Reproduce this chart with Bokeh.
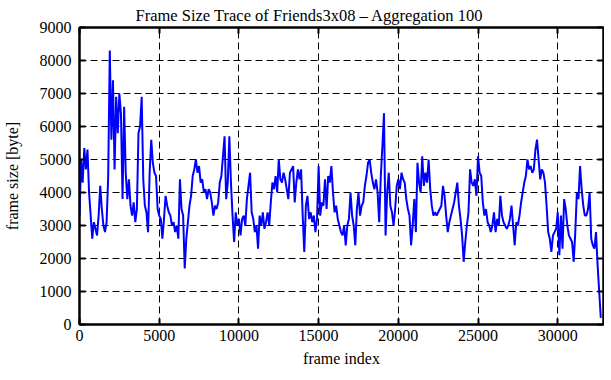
from bokeh.plotting import figure
from bokeh.models import LinearAxis, Range1d, FixedTicker
from bokeh.embed import file_html
from bokeh.resources import INLINE

# ---- data (frame size per aggregated block of 100 frames) ----
AGGREGATION = 100
size_a = [3300, 5000, 4300, 5350, 4700, 5300, 4000, 3300, 2600, 3100,
          2900, 2700, 3300, 4200, 3500, 3000, 2800, 3100, 4500, 8300,
          5600, 7400, 4700, 6900, 5800, 7000, 6400, 3800, 6600, 4600,
          3800, 4400, 3600, 3300, 3700, 3100, 3500, 5800, 6000, 6900,
          4400, 3600, 3400, 2800, 4600, 5600, 4900, 4600, 4500, 3500,
          3300, 3200, 2600, 3200, 3900, 3600, 3400, 3300, 3000, 3100,
          2800, 3000, 2600, 4400, 3500, 3300, 1700, 2600, 3100, 3600,
          3900, 4500, 4700, 5000, 4600, 4800, 4300, 4400, 4000, 4100,
          3800, 4100]
size_b = [4000, 3700, 3300, 3600, 3500, 3700, 4300, 4500,
          5100, 5700, 3800, 4300, 5700, 4300, 3300, 2500, 3400, 3000,
          3200, 2700, 3200, 3300, 3000, 3800, 4200, 4600, 3400, 3200,
          2800, 3000, 2300, 3300, 3000, 3400, 2900, 3100, 3400, 3000,
          3700, 4300, 4100, 4500, 4000, 5000, 4400, 4300, 4600, 4400,
          4100, 3800, 4600, 4700, 4800, 3700, 4300, 4700, 4400, 4700,
          3300, 2200, 3600, 3900, 3200, 3400, 3100, 3300, 2800, 3200,
          4800, 3300, 3700, 3600, 4400, 3500, 4500, 4300, 4800, 4000,
          3400, 3600, 3200, 3000]
size_c = [2800, 2700, 3000, 2400, 3000, 3200,
          4000, 3300, 3000, 2400, 3500, 4000, 3300, 3600, 3700, 4200,
          4500, 4900, 5000, 4600, 4300, 4100, 4400, 4000, 3100, 4500,
          5400, 6400, 2700, 4000, 4600, 3600, 3400, 3000, 3500, 4200,
          4400, 4100, 4600, 4400, 4300, 3800, 3500, 3300, 2400, 3000,
          3800, 2800, 4900, 4300, 4000, 5100, 4200, 4600, 4300, 5000,
          4100, 3600, 3300, 3400, 3300, 3400, 3500, 3600, 4200, 3900,
          3300, 2800, 3100, 3300, 3500, 3700, 4000, 4300, 3600, 3200,
          2700, 1900, 2500, 3000, 3400, 4700]
size_d = [4300, 4200, 4400, 3900,
          5100, 4600, 4500, 3700, 3300, 3500, 3100, 3000, 2800, 3000,
          3400, 2800, 3200, 3000, 3900, 3300, 3100, 3000, 2900, 3000,
          3200, 3600, 3000, 2400, 3100, 3000, 3300, 3700, 4000, 4300,
          4500, 5000, 4700, 4800, 4600, 4700, 5300, 5600, 5000, 4400,
          4700, 4600, 4300, 3600, 2800, 2600, 2200, 2700, 2800, 2900,
          3400, 2100, 3300, 2300, 3800, 3500, 3000, 2700, 2600, 2500,
          1900, 2800, 4000, 3800, 4800, 4100, 3600, 3300, 3300, 3500,
          4000, 2600, 2400, 2300, 2800, 1800, 1000, 200]

frame_sizes = size_a + size_b + size_c + size_d
frame_index = [AGGREGATION * i for i in range(len(frame_sizes))]

x_ticks = [0, 5000, 10000, 15000, 20000, 25000, 30000]
y_ticks = [0, 1000, 2000, 3000, 4000, 5000, 6000, 7000, 8000, 9000]
X_MAX = 32870
Y_MAX = 9000

FONT = "Liberation Serif"
FS = "16px"

p = figure(frame_width=524, frame_height=297,
           min_border_left=78, min_border_right=1,
           min_border_top=26, min_border_bottom=44,
           x_range=Range1d(0, X_MAX), y_range=Range1d(0, Y_MAX),
           output_backend="svg", toolbar_location=None,
           title="Frame Size Trace of Friends3x08 \u2013 Aggregation 100")

p.title.text_font = FONT
p.title.text_font_size = "16.5px"
p.title.text_font_style = "normal"
p.title.text_color = "black"
p.title.align = "left"
p.title.offset = 56
p.title.standoff = 6

p.background_fill_color = "white"
p.border_fill_color = "white"
p.outline_line_color = "black"
p.outline_line_width = 2

p.line(frame_index, frame_sizes, color="#0000ff", line_width=2)

def style_axis(ax, ticks, show_labels=True):
    ax.ticker = FixedTicker(ticks=ticks)
    ax.axis_line_color = "black"
    ax.axis_line_width = 2
    ax.major_tick_line_color = "black"
    ax.major_tick_line_width = 2
    ax.major_tick_in = 6
    ax.major_tick_out = 0
    ax.minor_tick_in = 0
    ax.minor_tick_out = 0
    ax.minor_tick_line_color = None
    ax.major_label_text_font = FONT
    ax.axis_label_text_font = FONT
    ax.axis_label_text_font_size = FS
    ax.axis_label_text_font_style = "normal"
    ax.axis_label_text_color = "black"
    if show_labels:
        ax.major_label_text_font_size = FS
        ax.major_label_text_color = "black"
    else:
        ax.major_label_text_font_size = "1px"
        ax.major_label_text_color = None
        ax.major_label_standoff = 0

style_axis(p.xaxis[0], x_ticks)
style_axis(p.yaxis[0], y_ticks)
p.xaxis[0].axis_label = "frame index"
p.xaxis[0].major_label_standoff = 5
p.xaxis[0].axis_label_standoff = 6
p.yaxis[0].axis_label = "frame size [byte]"
p.yaxis[0].major_label_standoff = 8
p.yaxis[0].axis_label_standoff = 16

right_axis = LinearAxis()
style_axis(right_axis, y_ticks, show_labels=False)
p.add_layout(right_axis, "right")

top_axis = LinearAxis()
style_axis(top_axis, x_ticks, show_labels=False)
p.add_layout(top_axis, "above")

for g in (p.xgrid[0], p.ygrid[0]):
    g.grid_line_color = "black"
    g.grid_line_dash = "7 4"
    g.grid_line_width = 1
p.xgrid[0].ticker = FixedTicker(ticks=x_ticks)
p.ygrid[0].ticker = FixedTicker(ticks=y_ticks)

open("out.html", "w").write(file_html(p, INLINE))
